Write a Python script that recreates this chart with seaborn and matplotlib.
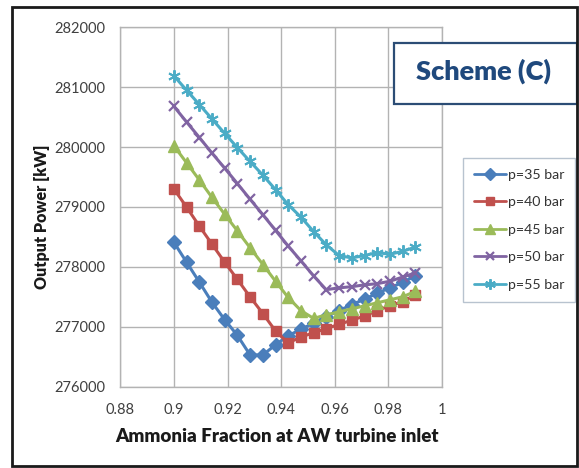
import numpy as np
import pandas as pd
import matplotlib
matplotlib.use("Agg")
import matplotlib.pyplot as plt
from matplotlib.patches import Rectangle
from matplotlib.lines import Line2D
import seaborn as sns

# Ammonia mass fraction at the AW turbine inlet (20 cases)
ammonia_fraction = [0.9000, 0.9047, 0.9095, 0.9142, 0.9189, 0.9237, 0.9284, 0.9332,
                    0.9379, 0.9426, 0.9474, 0.9521, 0.9568, 0.9616, 0.9663, 0.9711,
                    0.9758, 0.9805, 0.9853, 0.9900]

# Net output power [kW] for each turbine inlet pressure
power_35 = [278410, 278080, 277745, 277410, 277120, 276855, 276530, 276530, 276700, 276850,
            276960, 277060, 277170, 277270, 277370, 277460, 277560, 277650, 277740, 277850]
power_40 = [279300, 279000, 278680, 278380, 278080, 277790, 277500, 277220, 276930, 276730,
            276830, 276900, 276970, 277040, 277110, 277180, 277270, 277350, 277420, 277530]
power_45 = [280020, 279740, 279450, 279160, 278880, 278600, 278320, 278040, 277760, 277490,
            277270, 277140, 277200, 277250, 277300, 277350, 277400, 277450, 277500, 277590]
power_50 = [280680, 280420, 280160, 279900, 279650, 279390, 279130, 278870, 278610, 278350,
            278100, 277850, 277620, 277650, 277670, 277700, 277720, 277760, 277830, 277900]
power_55 = [281190, 280950, 280710, 280470, 280230, 279990, 279760, 279530, 279290, 279040,
            278830, 278590, 278370, 278190, 278150, 278190, 278240, 278210, 278260, 278330]

series_labels = ["p=35 bar", "p=40 bar", "p=45 bar", "p=50 bar", "p=55 bar"]
series_values = [power_35, power_40, power_45, power_50, power_55]

x_ticks = [0.88, 0.90, 0.92, 0.94, 0.96, 0.98, 1.00]
x_tick_labels = ["0.88", "0.9", "0.92", "0.94", "0.96", "0.98", "1"]
y_ticks = [276000, 277000, 278000, 279000, 280000, 281000, 282000]
y_tick_labels = ["276000", "277000", "278000", "279000", "280000", "281000", "282000"]

title_text = "Scheme (C)"
x_title = "Ammonia Fraction at AW turbine inlet"
y_title = "Output Power [kW]"

# long-form table for seaborn
frames = []
for label, vals in zip(series_labels, series_values):
    frames.append(pd.DataFrame({"fraction": ammonia_fraction, "power": vals, "series": label}))
data = pd.concat(frames, ignore_index=True)

sns.set_theme(style="white")
plt.rcParams["font.family"] = ["Lato", "DejaVu Sans"]

colors = ["#4a7ebb", "#c0504d", "#9bbb59", "#8064a2", "#4bacc6"]
markers = ["D", "s", "^", "x", (6, 2, 0)]
msizes = [7, 7.5, 8, 7.5, 9]
mews = [1.0, 1.0, 1.0, 1.6, 1.4]

fig = plt.figure(figsize=(5.79, 4.68), dpi=100)
ax = fig.add_axes([120.3 / 579, 1 - 386.7 / 468, (442 - 120.3) / 579, (386.7 - 27.3) / 468])

for label, col, mk, ms, mew in zip(series_labels, colors, markers, msizes, mews):
    sub = data[data["series"] == label]
    sns.lineplot(data=sub, x="fraction", y="power", ax=ax, color=col, marker=mk,
                 markersize=ms, markeredgecolor=col, markeredgewidth=mew,
                 linewidth=2.2, sort=False, legend=False, zorder=3)

ax.set_xlim(0.88, 1.0)
ax.set_ylim(276000, 282000)
ax.set_xticks(x_ticks)
ax.set_xticklabels(x_tick_labels)
ax.set_yticks(y_ticks)
ax.set_yticklabels(y_tick_labels)
ax.tick_params(axis="both", length=0, labelsize=10.5, labelcolor="#404040")
ax.tick_params(axis="x", pad=12)
ax.tick_params(axis="y", pad=11)
ax.grid(True, color="#b3b3b3", linewidth=1.0)
ax.set_axisbelow(True)
for sp in ax.spines.values():
    sp.set_color("#b3b3b3")
    sp.set_linewidth(1.0)

ax.set_xlabel(x_title, fontsize=13.5, fontweight="heavy", color="#1a1a1a", va="center")
ax.xaxis.set_label_coords((277 - 120.3) / 321.7, (386.7 - 437) / 359.4)
ax.set_ylabel(y_title, fontsize=11.5, fontweight="heavy", color="#1a1a1a", va="center")
ax.yaxis.set_label_coords((41.7 - 120.3) / 321.7, (386.7 - 217) / 359.4)

# legend outside the plotting area
handles = [Line2D([], [], color=c, marker=m, markersize=s * 0.85, markeredgecolor=c,
                  markeredgewidth=w, linewidth=2.0)
           for c, m, s, w in zip(colors, markers, msizes, mews)]
leg = fig.legend(handles, series_labels, loc="upper left",
                 bbox_to_anchor=(463 / 579, 1 - 158 / 468), frameon=True,
                 fontsize=10.2, handlelength=2.3, handletextpad=0.15,
                 labelspacing=1.1, borderpad=0.75, borderaxespad=0.0, fancybox=False)
leg.get_frame().set_edgecolor("#a6b4c4")
leg.get_frame().set_linewidth(1.0)
for t in leg.get_texts():
    t.set_color("#333333")

# scheme caption box
fig.patches.append(Rectangle((394 / 579, 1 - 104 / 468), (577 - 394) / 579, (104 - 43) / 468,
                             transform=fig.transFigure, facecolor="white",
                             edgecolor="#2c4d75", linewidth=1.6, zorder=5))
fig.text(483 / 579, 1 - 71 / 468, title_text, ha="center", va="center", fontsize=19.5,
         fontweight="heavy", color="#1f497d", zorder=6)

# outer frame
fig.patches.append(Rectangle((12 / 579, 1 - 466 / 468), (576.5 - 12) / 579, (466 - 7.3) / 468,
                             transform=fig.transFigure, facecolor="none",
                             edgecolor="#1a1a1a", linewidth=2.0, zorder=7))

fig.savefig("out.png", dpi=100)
